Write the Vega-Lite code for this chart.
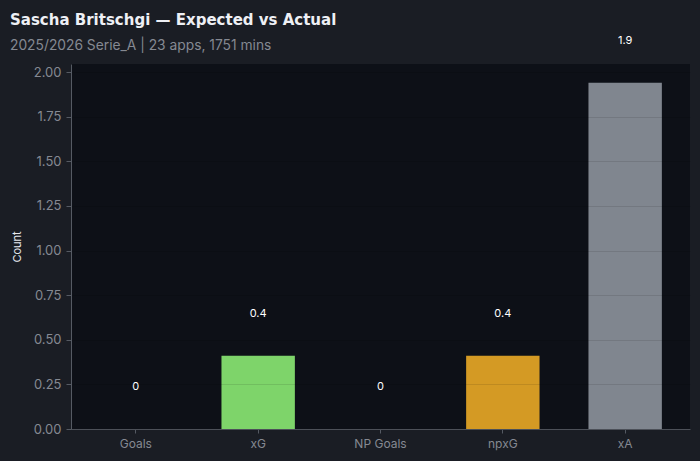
{
  "$schema": "https://vega.github.io/schema/vega-lite/v6.json",
  "autosize": "none",
  "width": 619,
  "height": 365,
  "padding": {"left": 71, "top": 64, "right": 10, "bottom": 32},
  "background": "#1a1d24",
  "title": {
    "text": "Sascha Britschgi — Expected vs Actual",
    "subtitle": "2025/2026 Serie_A | 23 apps, 1751 mins",
    "anchor": "start",
    "frame": "group",
    "dx": -61,
    "offset": -18,
    "font": "DejaVu Sans",
    "fontSize": 15,
    "fontWeight": "bold",
    "color": "#eef0f5",
    "subtitleFont": "Inter",
    "subtitleFontSize": 13.8,
    "subtitleColor": "#858992",
    "subtitlePadding": 11
  },
  "config": {
    "view": {"fill": "#0d1017", "stroke": null},
    "font": "Inter"
  },
  "data": {
    "values": [
      {"metric": "Goals", "value": 0},
      {"metric": "xG", "value": 0.41},
      {"metric": "NP Goals", "value": 0},
      {"metric": "npxG", "value": 0.41},
      {"metric": "xA", "value": 1.94}
    ]
  },
  "encoding": {
    "x": {
      "field": "metric",
      "type": "nominal",
      "sort": null,
      "scale": {"paddingInner": 0.4, "paddingOuter": 0.23},
      "axis": {
        "title": null,
        "labelAngle": 0,
        "labelColor": "#858992",
        "labelFontSize": 12,
        "labelPadding": 5,
        "domainColor": "#555a63",
        "tickColor": "#555a63",
        "tickSize": 4,
        "grid": false
      }
    },
    "y": {
      "field": "value",
      "type": "quantitative",
      "scale": {"domain": [0, 2.045], "nice": false},
      "axis": {
        "title": "Count",
        "titleColor": "#e6e8ee",
        "titleFontSize": 11,
        "titleFontWeight": "normal",
        "titlePadding": 11,
        "values": [0, 0.25, 0.5, 0.75, 1, 1.25, 1.5, 1.75, 2],
        "format": ".2f",
        "labelColor": "#858992",
        "labelFontSize": 13,
        "labelPadding": 5,
        "domainColor": "#555a63",
        "tickColor": "#555a63",
        "tickSize": 5,
        "grid": true,
        "gridColor": "#000000",
        "gridOpacity": 0.1,
        "zindex": 1
      }
    }
  },
  "layer": [
    {
      "mark": {"type": "bar"},
      "encoding": {
        "color": {
          "field": "metric",
          "type": "nominal",
          "scale": {
            "domain": ["Goals", "xG", "NP Goals", "npxG", "xA"],
            "range": ["#7ed46a", "#7ed46a", "#d49a24", "#d49a24", "#80868f"]
          },
          "legend": null
        }
      }
    },
    {
      "mark": {"type": "text", "dy": -42, "baseline": "middle", "color": "#ffffff", "fontSize": 11},
      "encoding": {
        "text": {"field": "value", "type": "quantitative", "format": ".1~f"}
      }
    }
  ]
}
